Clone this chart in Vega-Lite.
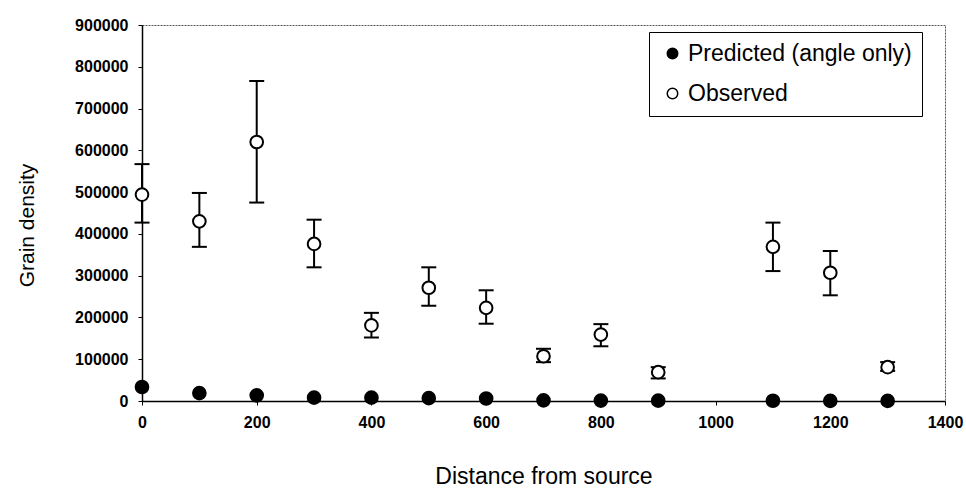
{
  "$schema": "https://vega.github.io/schema/vega-lite/v6.json",
  "width": 803,
  "height": 376,
  "autosize": {"type": "none"},
  "padding": {"left": 142, "top": 25, "right": 21, "bottom": 98},
  "background": "white",
  "config": {
    "font": "Liberation Sans",
    "view": {"stroke": "#555555", "strokeWidth": 1, "strokeDash": [2, 1]},
    "axis": {
      "grid": false,
      "domainColor": "black",
      "domainWidth": 1.5,
      "tickColor": "black",
      "tickSize": 4,
      "labelColor": "black",
      "labelFont": "Liberation Sans",
      "labelFontSize": 16,
      "labelFontWeight": "bold",
      "labelFlush": false,
      "labelOverlap": false,
      "titleColor": "black",
      "titleFont": "Liberation Sans",
      "titleFontWeight": "normal"
    },
    "legend": {
      "orient": "none",
      "legendX": 507,
      "legendY": 7,
      "strokeColor": "black",
      "fillColor": "white",
      "padding": 10,
      "labelFont": "Liberation Sans",
      "labelFontSize": 23,
      "labelColor": "black",
      "labelLimit": 400,
      "symbolType": "circle",
      "symbolSize": 110,
      "symbolStrokeColor": "black",
      "symbolStrokeWidth": 1.5,
      "rowPadding": 16,
      "symbolOffset": 2
    }
  },
  "data": {
    "values": [
      {"distance": 0, "series": "Predicted (angle only)", "value": 33500},
      {"distance": 100, "series": "Predicted (angle only)", "value": 19000},
      {"distance": 200, "series": "Predicted (angle only)", "value": 13500},
      {"distance": 300, "series": "Predicted (angle only)", "value": 8000},
      {"distance": 400, "series": "Predicted (angle only)", "value": 8000},
      {"distance": 500, "series": "Predicted (angle only)", "value": 7000},
      {"distance": 600, "series": "Predicted (angle only)", "value": 6000},
      {"distance": 700, "series": "Predicted (angle only)", "value": 1500},
      {"distance": 800, "series": "Predicted (angle only)", "value": 1000},
      {"distance": 900, "series": "Predicted (angle only)", "value": 800},
      {"distance": 1100, "series": "Predicted (angle only)", "value": 500},
      {"distance": 1200, "series": "Predicted (angle only)", "value": 300},
      {"distance": 1300, "series": "Predicted (angle only)", "value": 200},
      {"distance": 0, "series": "Observed", "value": 494000, "lo": 427000, "hi": 567000},
      {"distance": 100, "series": "Observed", "value": 430000, "lo": 369000, "hi": 498000},
      {"distance": 200, "series": "Observed", "value": 620000, "lo": 475000, "hi": 766000},
      {"distance": 300, "series": "Observed", "value": 376000, "lo": 320000, "hi": 434000},
      {"distance": 400, "series": "Observed", "value": 181000, "lo": 152000, "hi": 211000},
      {"distance": 500, "series": "Observed", "value": 271000, "lo": 228000, "hi": 320000},
      {"distance": 600, "series": "Observed", "value": 223000, "lo": 185000, "hi": 265000},
      {"distance": 700, "series": "Observed", "value": 107000, "lo": 93000, "hi": 125000},
      {"distance": 800, "series": "Observed", "value": 159000, "lo": 131000, "hi": 184000},
      {"distance": 900, "series": "Observed", "value": 69000, "lo": 54000, "hi": 81000},
      {"distance": 1100, "series": "Observed", "value": 369000, "lo": 311000, "hi": 427000},
      {"distance": 1200, "series": "Observed", "value": 307000, "lo": 253000, "hi": 359000},
      {"distance": 1300, "series": "Observed", "value": 81000, "lo": 72000, "hi": 93000}
    ]
  },
  "encoding": {
    "x": {
      "field": "distance",
      "type": "quantitative",
      "scale": {"domain": [0, 1400], "nice": false, "zero": false},
      "axis": {
        "title": "Distance from source",
        "values": [0, 200, 400, 600, 800, 1000, 1200, 1400],
        "format": "d",
        "labelPadding": 9,
        "titleFontSize": 23,
        "titleBaseline": "alphabetic",
        "titleY": 82
      }
    }
  },
  "layer": [
    {
      "transform": [{"filter": "datum.series === 'Observed'"}],
      "mark": {"type": "rule", "color": "black", "strokeWidth": 2},
      "encoding": {
        "y": {
          "field": "lo",
          "type": "quantitative",
          "scale": {"domain": [0, 900000], "nice": false},
          "axis": {
            "title": "Grain density",
            "values": [0, 100000, 200000, 300000, 400000, 500000, 600000, 700000, 800000, 900000],
            "format": "d",
            "labelPadding": 10,
            "titleFontSize": 21,
            "titleAngle": -90,
            "titleBaseline": "middle",
            "titleX": -115,
            "titleY": 200
          }
        },
        "y2": {"field": "hi"}
      }
    },
    {
      "transform": [{"filter": "datum.series === 'Observed'"}],
      "mark": {"type": "tick", "orient": "horizontal", "color": "black", "size": 15, "thickness": 2, "opacity": 1},
      "encoding": {"y": {"field": "lo", "type": "quantitative"}}
    },
    {
      "transform": [{"filter": "datum.series === 'Observed'"}],
      "mark": {"type": "tick", "orient": "horizontal", "color": "black", "size": 15, "thickness": 2, "opacity": 1},
      "encoding": {"y": {"field": "hi", "type": "quantitative"}}
    },
    {
      "mark": {"type": "point", "shape": "circle", "size": 160, "stroke": "black", "strokeWidth": 2, "opacity": 1},
      "encoding": {
        "y": {"field": "value", "type": "quantitative"},
        "fill": {
          "field": "series",
          "type": "nominal",
          "scale": {"domain": ["Predicted (angle only)", "Observed"], "range": ["black", "white"]},
          "legend": {"title": null}
        }
      }
    }
  ]
}
